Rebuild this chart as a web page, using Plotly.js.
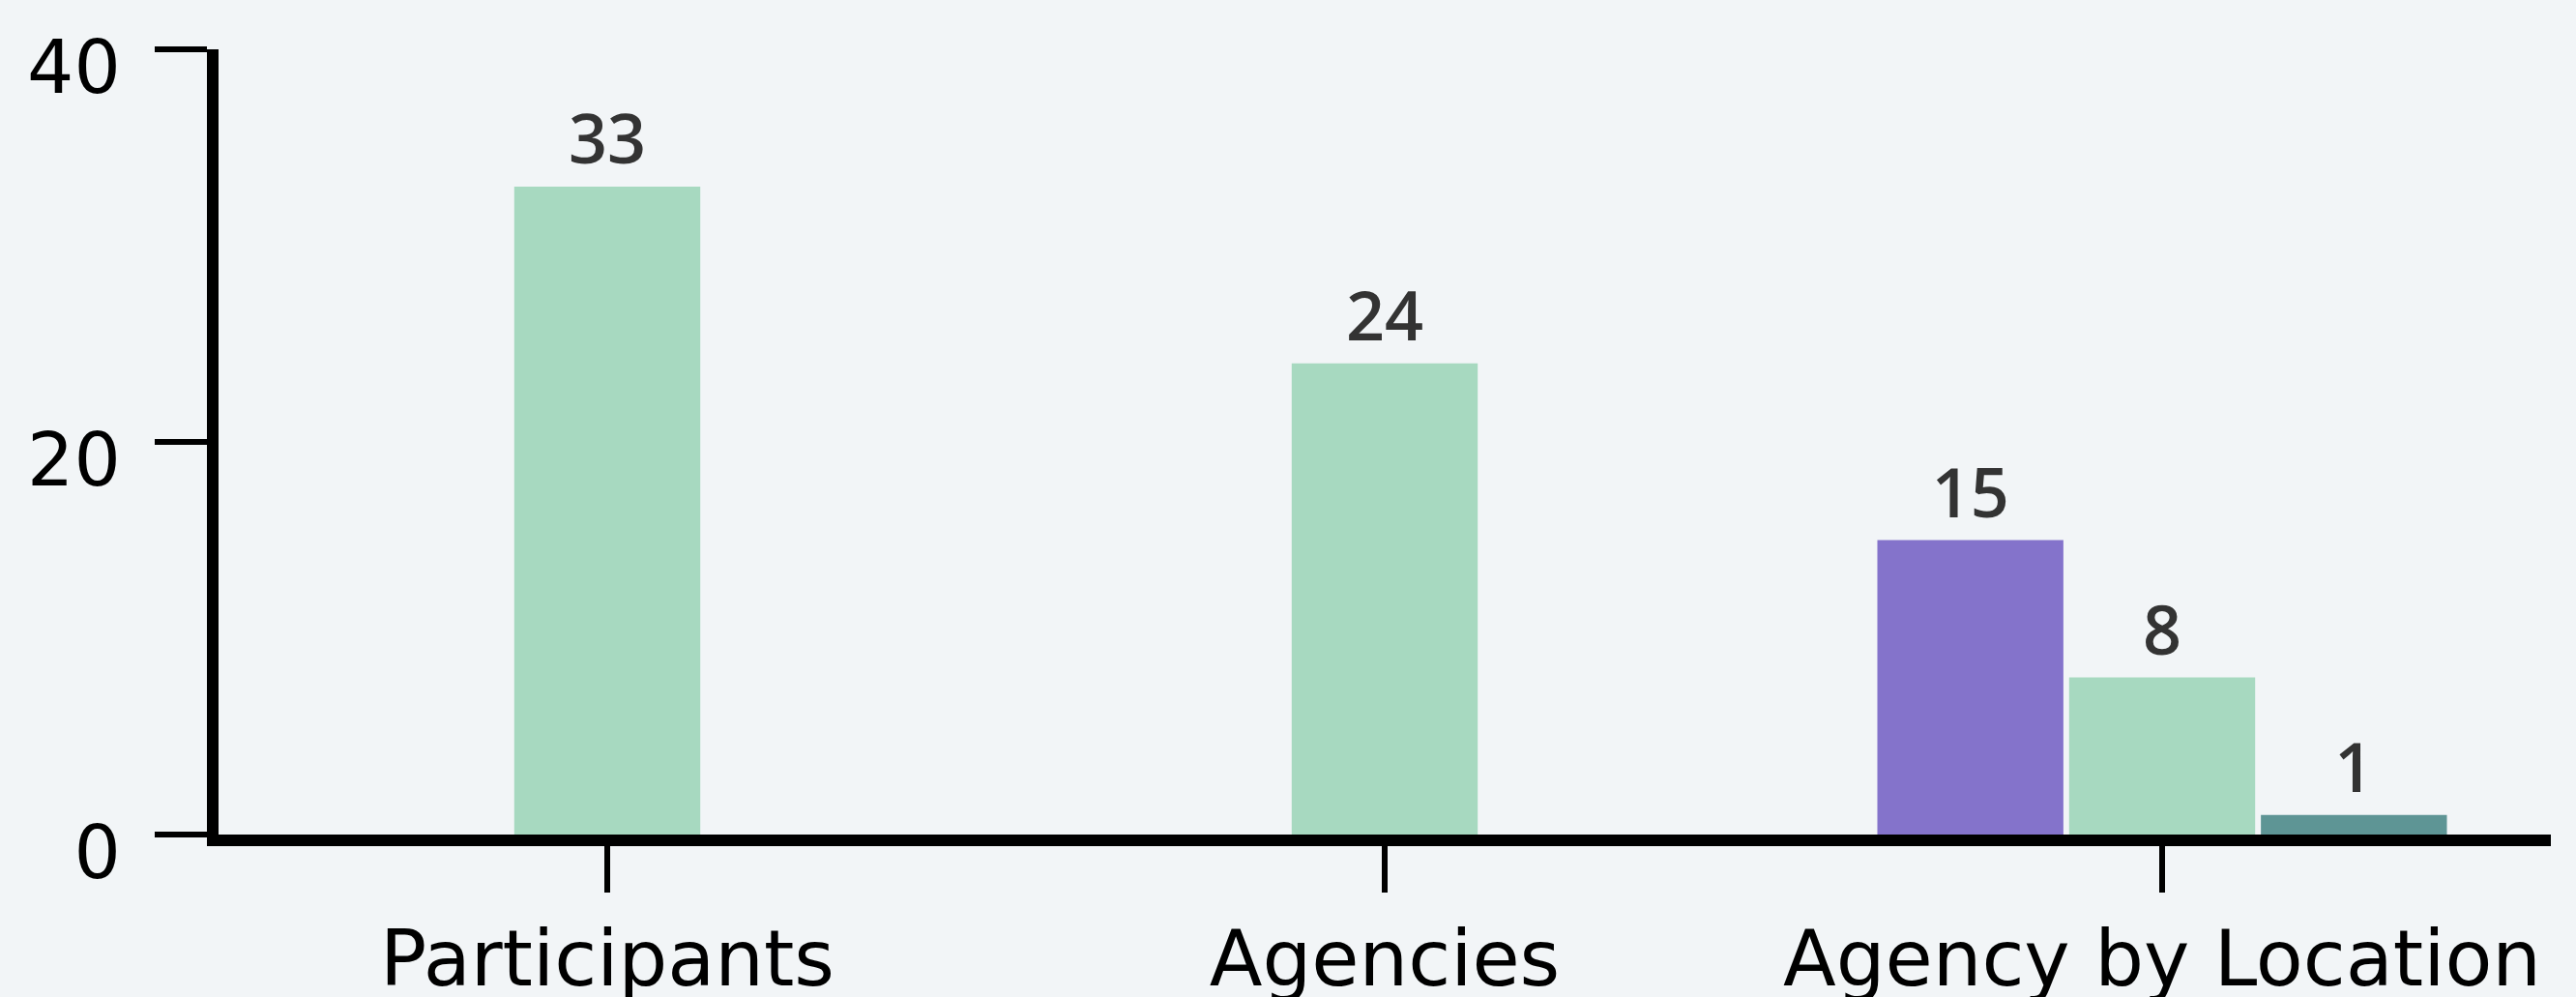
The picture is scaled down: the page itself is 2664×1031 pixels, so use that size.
<!DOCTYPE html>
<html>
<head>
<meta charset="utf-8">
<script src="https://cdn.plot.ly/plotly-3.0.1.min.js"></script>
<style>
html,body{margin:0;padding:0;background:#F2F5F7;}
#chart{width:2664px;height:1031px;}
</style>
</head>
<body>
<div id="chart"></div>
<script>
const categories = ["Participants", "Agencies", "Agency by Location"];
const series1Values = [null, null, 15];
const series2Values = [33, 24, 8];
const series3Values = [null, null, 1];
const yTickValues = [0, 20, 40];
const yTickLabels = ["0", "20", "40"];

const FONT = "DejaVu Sans, Verdana, sans-serif";
const textFont = {family: "Open Sans, DejaVu Sans, sans-serif", size: 70, weight: 600, color: "#333333"};

function barTrace(name, values, color) {
  return {
    type: "bar",
    name: name,
    x: categories,
    y: values,
    marker: {color: color, line: {width: 0}},
    texttemplate: "%{y}",
    textposition: "outside",
    textfont: textFont,
    cliponaxis: false,
    hoverinfo: "x+y"
  };
}

const data = [
  barTrace("Series 1", series1Values, "#8473CB"),
  barTrace("Series 2", series2Values, "#A7D9C0"),
  barTrace("Series 3", series3Values, "#5E9595")
];

const layout = {
  width: 2664,
  height: 1031,
  paper_bgcolor: "#F2F5F7",
  plot_bgcolor: "#F2F5F7",
  margin: {l: 226, r: 26, t: 51, b: 168, pad: 0},
  barmode: "group",
  bargap: 0.26,
  bargroupgap: 0.03,
  showlegend: false,
  font: {family: FONT, color: "#000000"},
  xaxis: {
    type: "category",
    range: [-0.5, 2.5],
    showgrid: false,
    zeroline: false,
    showline: true,
    linecolor: "#000000",
    linewidth: 12,
    ticks: "outside",
    ticklen: 48,
    tickwidth: 6,
    tickcolor: "#000000",
    tickfont: {family: FONT, size: 80, color: "#000000"},
    ticklabelstandoff: 0,
    ticklabeloverflow: "allow"
  },
  yaxis: {
    range: [0, 40],
    tickvals: yTickValues,
    ticktext: yTickLabels,
    showgrid: false,
    zeroline: false,
    showline: true,
    linecolor: "#000000",
    linewidth: 12,
    ticks: "outside",
    ticklen: 54,
    tickwidth: 6,
    tickcolor: "#000000",
    tickfont: {family: FONT, size: 76, color: "#000000"},
    ticklabelstandoff: 20,
    ticklabelshift: 18,
    ticklabeloverflow: "allow"
  }
};

Plotly.newPlot("chart", data, layout, {displayModeBar: false, staticPlot: true});
</script>
</body>
</html>
